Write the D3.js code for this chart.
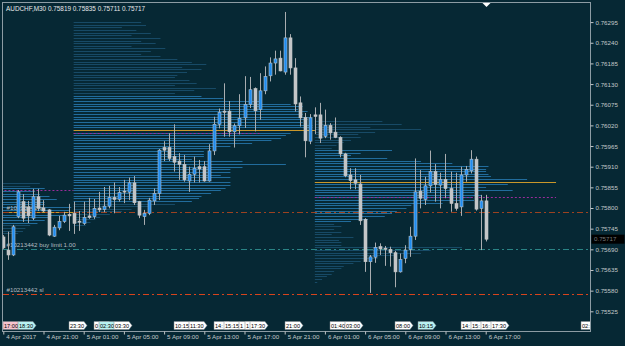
<!DOCTYPE html>
<html>
<head>
<meta charset="utf-8">
<script src="https://cdn.jsdelivr.net/npm/d3@7"></script>
<style>
  body { margin: 0; background: #062834; }
  svg { display: block; font-family: "Liberation Sans", Arial, sans-serif; }
</style>
</head>
<body>
<div class="chart"></div>
<script>
const title = "AUDCHF,M30  0.75819 0.75835 0.75711 0.75717"
const firstBar = "2017-04-04 17:00"   // bars are 30 minutes apart

const open = [0.75723,0.75688,0.75675,0.75777,0.75817,0.75803,0.75773,0.75830,0.75800,0.75795,
  0.75725,0.75747,0.75764,0.75783,0.75786,0.75765,0.75759,0.75779,0.75777,0.75800,
  0.75796,0.75805,0.75828,0.75823,0.75845,0.75842,0.75867,0.75817,0.75777,0.75786,
  0.75819,0.75839,0.75961,0.75961,0.75937,0.75925,0.75916,0.75872,0.75890,0.75910,
  0.75910,0.75872,0.75952,0.76023,0.76058,0.76058,0.76003,0.76019,0.76040,0.76076,
  0.76118,0.76062,0.76112,0.76152,0.76186,0.76199,0.76162,0.76253,0.76173,0.76080,
  0.76041,0.75978,0.76048,0.76048,0.75991,0.76020,0.76002,0.75988,0.75944,0.75888,
  0.75875,0.75864,0.75770,0.75657,0.75669,0.75697,0.75693,0.75690,0.75681,0.75630,
  0.75666,0.75690,0.75725,0.75845,0.75823,0.75859,0.75897,0.75861,0.75876,0.75852,
  0.75812,0.75803,0.75888,0.75899,0.75930,0.75799,0.75819]
const high = [0.75728,0.75737,0.75755,0.75848,0.75837,0.75819,0.75851,0.75851,0.75821,0.75797,
  0.75755,0.75779,0.75790,0.75811,0.75817,0.75792,0.75817,0.75827,0.75824,0.75843,
  0.75856,0.75859,0.75868,0.75856,0.75875,0.75881,0.75885,0.75819,0.75795,0.75827,
  0.75852,0.75957,0.75978,0.75999,0.76023,0.75946,0.75941,0.75910,0.75937,0.75928,
  0.75925,0.75970,0.76043,0.76065,0.76132,0.76085,0.76025,0.76103,0.76151,0.76149,
  0.76121,0.76159,0.76177,0.76201,0.76219,0.76219,0.76322,0.76263,0.76199,0.76097,
  0.76053,0.76050,0.76068,0.76080,0.76062,0.76026,0.76041,0.75991,0.75947,0.75906,
  0.75906,0.75888,0.75773,0.75675,0.75708,0.75706,0.75699,0.75697,0.75686,0.75679,
  0.75701,0.75750,0.75932,0.75901,0.75883,0.75953,0.75917,0.75894,0.75944,0.75897,
  0.75894,0.75910,0.75912,0.75954,0.75937,0.75835,0.75835]
const low = [0.75691,0.75662,0.75672,0.75773,0.75763,0.75760,0.75768,0.75792,0.75789,0.75725,
  0.75723,0.75741,0.75760,0.75739,0.75731,0.75739,0.75755,0.75771,0.75771,0.75789,
  0.75789,0.75799,0.75786,0.75817,0.75813,0.75821,0.75808,0.75773,0.75755,0.75781,
  0.75808,0.75821,0.75925,0.75925,0.75897,0.75875,0.75870,0.75843,0.75868,0.75868,
  0.75870,0.75870,0.75941,0.76012,0.75990,0.75990,0.75961,0.75996,0.76013,0.76066,
  0.76004,0.76035,0.76103,0.76137,0.76155,0.76164,0.76155,0.76155,0.76057,0.76017,
  0.75935,0.75970,0.75997,0.75973,0.75986,0.75982,0.75986,0.75935,0.75882,0.75850,
  0.75850,0.75755,0.75630,0.75574,0.75654,0.75675,0.75646,0.75644,0.75589,0.75628,
  0.75653,0.75670,0.75715,0.75799,0.75808,0.75841,0.75817,0.75799,0.75826,0.75790,
  0.75793,0.75779,0.75870,0.75892,0.75793,0.75688,0.75711]
const close = [0.75694,0.75675,0.75750,0.75843,0.75773,0.75779,0.75830,0.75799,0.75792,0.75728,
  0.75749,0.75764,0.75781,0.75779,0.75759,0.75764,0.75775,0.75775,0.75799,0.75795,
  0.75805,0.75828,0.75823,0.75841,0.75843,0.75867,0.75814,0.75781,0.75786,0.75821,
  0.75839,0.75954,0.75954,0.75932,0.75922,0.75916,0.75875,0.75890,0.75906,0.75904,
  0.75872,0.75952,0.76023,0.76055,0.76055,0.76003,0.76019,0.76039,0.76076,0.76115,
  0.76059,0.76112,0.76150,0.76186,0.76197,0.76165,0.76253,0.76173,0.76077,0.76040,
  0.75979,0.76040,0.76044,0.75986,0.76020,0.76000,0.75988,0.75944,0.75886,0.75873,
  0.75866,0.75766,0.75657,0.75670,0.75695,0.75691,0.75692,0.75681,0.75630,0.75663,
  0.75688,0.75725,0.75843,0.75826,0.75859,0.75897,0.75863,0.75876,0.75852,0.75812,
  0.75799,0.75888,0.75903,0.75930,0.75797,0.75819,0.75717]

const priceTicks = [0.75525,0.75580,0.75635,0.75690,0.75745,0.75800,0.75855,0.75910,
  0.75965,0.76020,0.76075,0.76130,0.76185,0.76240,0.76295]
const timeTicks = ["2017-04-04 17:00","2017-04-04 21:00","2017-04-05 01:00","2017-04-05 05:00",
  "2017-04-05 09:00","2017-04-05 13:00","2017-04-05 17:00","2017-04-05 21:00",
  "2017-04-06 01:00","2017-04-06 05:00","2017-04-06 09:00","2017-04-06 13:00","2017-04-06 17:00"]
const timeLabels = ["4 Apr 2017","4 Apr 21:00","5 Apr 01:00","5 Apr 05:00","5 Apr 09:00",
  "5 Apr 13:00","5 Apr 17:00","5 Apr 21:00","6 Apr 01:00","6 Apr 05:00","6 Apr 09:00",
  "6 Apr 13:00","6 Apr 17:00"]

// daily volume profiles, rows from the top price down, one step apart
const profileStep = 0.00007
const sessionStart = ["2017-04-04 00:00","2017-04-05 00:00","2017-04-06 00:00"]
const profileTop = [0.75866, 0.76295, 0.76031]
const profA = [86,82,88,84,86,90,93,88,88,99,98,100,97,90,88,85,82,80,79,77]
const profB = [28,30,20,26,32,24,36,28,34,24,38,32,28,36,43,49,55,45,53,47,
  43,42,48,51,42,59,50,42,53,62,78,90,95,93,97,95,99,97,95,99,
  99,100,90,88,86,82,74,65,57,54,54,54,49,70,88,70,65,65,61,65,
  57,65,65,63,61,57,53,52,49,42,32,24,20,15,11,9,7,5]
const profC = [28,36,23,44,25,18,19,15,12,9,7,32,19,15,30,44,57,72,71,71,
  72,73,88,92,80,71,82,66,69,65,66,53,40,38,34,32,29,22,15,8,
  11,8,11,7,16,10,11,11,61,48,44,33,26,19,16,12,11,8,7,5,3,1]
const vwap = [0.75848, 0.75999, 0.75828]
const vwapEnd = ["2017-04-05 00:00","2017-04-05 18:30","2017-04-07 00:00"]

// order lines
const orderPrices = [0.75790, 0.75690, 0.75571]
const orderLabels = ["#10213442 tp", "#10213442 buy limit 1.00", "#10213442 sl"]
const orderColors = ["#9c4220", "#2a8486", "#d8441c"]

// event markers on the time scale
const eventTimes = ["2017-04-04 17:00","2017-04-04 18:30","2017-04-04 23:30","2017-04-05 02:00",
  "2017-04-05 02:30","2017-04-05 04:00","2017-04-05 10:00","2017-04-05 11:30","2017-04-05 14:00",
  "2017-04-05 15:00","2017-04-05 16:30","2017-04-05 17:00","2017-04-05 17:30","2017-04-05 21:00",
  "2017-04-06 01:30","2017-04-06 03:00","2017-04-06 08:00","2017-04-06 10:15","2017-04-06 14:30",
  "2017-04-06 15:30","2017-04-06 16:30","2017-04-06 17:30","2017-04-07 02:30"]
const eventText = ["17:00","18:30","23:30","02:00","02:30","03:30","10:15","11:30","14:00",
  "15:15","16:30","17:00","17:30","21:00","01:40","03:00","08:00","10:15","14:30",
  "15:30","16:30","17:30","02:30"]
const eventKind = ["pink","cyan","w","w","cyan","w","w","w","w","w","w","w","w","w",
  "w","w","w","cyan","w","w","w","w","w"]

const parse = d3.timeParse("%Y-%m-%d %H:%M")
const width = 625, height = 346
const plot = {left: 3, top: 3, right: 590, bottom: 331}

const svg = d3.select(".chart").append("svg")
    .attr("width", width)
    .attr("height", height)

svg.append("rect").attr("width", width).attr("height", height).attr("fill", "#062834")

const t0 = parse(firstBar)
const bars = open.map((o, i) => ({
  t: d3.timeMinute.offset(t0, 30 * i), o, h: high[i], l: low[i], c: close[i]
}))

const x = d3.scaleTime()
    .domain([t0, bars[bars.length - 1].t])
    .range([3.3, 485.7])

const y = d3.scaleLinear()
    .domain([0.75525, 0.76295])
    .range([311.3, 22.1])

const px = t => Math.round(x(t)) + 0.5
const py = p => Math.round(y(p)) + 0.5

svg.append("clipPath").attr("id", "plotclip")
  .append("rect")
    .attr("x", plot.left).attr("y", plot.top)
    .attr("width", plot.right - plot.left).attr("height", plot.bottom - plot.top)

const g = svg.append("g").attr("clip-path", "url(#plotclip)")

// ---- volume profiles
function valueArea(v) {
  const total = d3.sum(v)
  const poc = d3.maxIndex(v)
  let lo = poc, hi = poc, s = v[poc]
  while (s < 0.7 * total && (lo > 0 || hi < v.length - 1)) {
    const dn = hi + 1 < v.length ? v[hi + 1] : -1
    const up = lo - 1 >= 0 ? v[lo - 1] : -1
    if (dn >= up) { hi++; s += dn } else { lo--; s += up }
  }
  return [lo, hi, poc]
}

const volLen = d3.scaleLinear().domain([0, 100])

;[profA, profB, profC].forEach((prof, si) => {
  const start = parse(sessionStart[si])
  const x0 = x(start)
  const dayW = x(d3.timeDay.offset(start, 1)) - x0
  volLen.range([0, dayW])
  const [lo, hi, poc] = valueArea(prof)
  const rows = prof.map((v, k) => ({p: profileTop[si] - k * profileStep, v, k}))

  g.append("g").selectAll("line")
    .data(rows)
    .join("line")
      .attr("x1", x0)
      .attr("x2", d => x0 + volLen(d.v))
      .attr("y1", d => py(d.p))
      .attr("y2", d => py(d.p))
      .attr("stroke", d => d.k >= lo && d.k <= hi ? "#216c9c" : "#174a66")
      .attr("stroke-width", 1)

  // point of control
  g.append("line")
      .attr("x1", x0).attr("x2", x0 + dayW)
      .attr("y1", py(rows[poc].p)).attr("y2", py(rows[poc].p))
      .attr("stroke", "#c9972a")

  g.append("line")
      .attr("x1", x0).attr("x2", x(parse(vwapEnd[si])))
      .attr("y1", py(vwap[si])).attr("y2", py(vwap[si]))
      .attr("stroke", "#9b2c9b")
      .attr("stroke-dasharray", "2,2")
})

// ---- order lines
const orders = orderPrices.map((p, i) => ({p, label: orderLabels[i], color: orderColors[i]}))

g.selectAll(".order")
  .data(orders)
  .join("line")
    .attr("class", "order")
    .attr("x1", plot.left).attr("x2", plot.right)
    .attr("y1", d => py(d.p)).attr("y2", d => py(d.p))
    .attr("stroke", d => d.color)
    .attr("stroke-dasharray", "6,3,2,3")

g.selectAll(".olabel")
  .data(orders)
  .join("text")
    .attr("class", "olabel")
    .attr("x", 6.5)
    .attr("y", d => py(d.p) - 2.5)
    .attr("font-size", 6.2)
    .attr("fill", "#b4bcc0")
    .text(d => d.label)

// ---- candles
g.selectAll(".wick")
  .data(bars)
  .join("line")
    .attr("class", "wick")
    .attr("x1", d => px(d.t)).attr("x2", d => px(d.t))
    .attr("y1", d => y(d.h)).attr("y2", d => y(d.l))
    .attr("stroke", "#a9adb0")

g.selectAll(".body")
  .data(bars)
  .join("rect")
    .attr("class", "body")
    .attr("x", d => px(d.t) - 1.5)
    .attr("width", 3)
    .attr("y", d => y(Math.max(d.o, d.c)))
    .attr("height", d => Math.max(1, Math.abs(y(d.o) - y(d.c))))
    .attr("fill", d => d.c > d.o ? "#1e8cf0" : "#c4c6c8")
    .attr("stroke", d => d.c > d.o ? "#b4c2cc" : "#c4c6c8")
    .attr("stroke-width", 0.6)

// ---- event markers, each box partly hidden by the next one
const events = eventTimes.map((t, i) => ({t: parse(t), text: eventText[i], kind: eventKind[i]}))
const evFill = {pink: "#f7c3cf", cyan: "#b9f2f2", w: "#ffffff"}
const ev = g.selectAll(".ev")
  .data(events)
  .join("g")
    .attr("class", "ev")
    .attr("transform", d => `translate(${Math.round(x(d.t))},321.5)`)
ev.append("path")
    .attr("d", "M0,0h15l3,4l-3,4h-15z")
    .attr("fill", d => evFill[d.kind])
    .attr("stroke", "#7a8288")
    .attr("stroke-width", 0.5)
ev.append("text")
    .attr("x", 1).attr("y", 6.5)
    .attr("font-size", 5.6)
    .attr("fill", "#000")
    .text(d => d.text)
ev.each(function(d, i) {
  const x0 = Math.round(x(d.t))
  const after = events.slice(i + 1).map(e => Math.round(x(e.t))).filter(v => v > x0)
  const room = Math.min(d3.min(after) ?? Infinity, plot.right) - x0
  const t = d3.select(this).select("text")
  let s = d.text
  while (s.length > 1 && t.node().getComputedTextLength() > room) {
    s = s.slice(0, -1)
    t.text(s)
  }
})

// ---- frame
svg.append("rect")
    .attr("x", plot.left - 0.5).attr("y", plot.top - 0.5)
    .attr("width", plot.right - plot.left + 1).attr("height", plot.bottom - plot.top + 1)
    .attr("fill", "none")
    .attr("stroke", "#8d9ca4")

// ---- price axis
const yAxis = d3.axisRight(y)
    .tickValues(priceTicks)
    .tickSize(3)
    .tickPadding(2)
    .tickFormat(d3.format(".5f"))

svg.append("g")
    .attr("transform", `translate(${plot.right + 0.5},0)`)
    .call(yAxis)
    .call(a => a.select(".domain").remove())
    .call(a => a.selectAll(".tick line").attr("stroke", "#c0c4c6"))
    .call(a => a.selectAll(".tick text")
        .attr("fill", "#c4c8ca")
        .attr("font-size", 6.2)
        .attr("font-family", "Liberation Sans, Arial, sans-serif"))

// current bid label
const last = bars[bars.length - 1]
svg.append("rect")
    .attr("x", 591.5).attr("y", y(last.c) - 4.5)
    .attr("width", 33).attr("height", 9)
    .attr("fill", "#000")
svg.append("text")
    .attr("x", 594).attr("y", y(last.c) + 2.2)
    .attr("font-size", 6.2)
    .attr("fill", "#767a7c")
    .text(d3.format(".5f")(last.c))

// ---- time axis
const xAxis = d3.axisBottom(x)
    .tickValues(timeTicks.map(parse))
    .tickSize(3)
    .tickFormat((d, i) => timeLabels[i])

svg.append("g")
    .attr("transform", `translate(0,${plot.bottom + 0.5})`)
    .call(xAxis)
    .call(a => a.select(".domain").remove())
    .call(a => a.selectAll(".tick line").attr("stroke", "#c0c4c6"))
    .call(a => a.selectAll(".tick text")
        .attr("fill", "#c4c8ca")
        .attr("font-size", 6.2)
        .attr("font-family", "Liberation Sans, Arial, sans-serif")
        .attr("text-anchor", "start")
        .attr("x", 2.5)
        .attr("y", 3)
        .attr("dy", "0.71em"))

// chart shift marker
const sx = Math.round(x(last.t)) + 0.5
svg.append("path")
    .attr("d", `M${sx - 4},3L${sx + 4},3L${sx},7Z`)
    .attr("fill", "#ffffff")

// title
svg.append("text")
    .attr("x", 6).attr("y", 10.5)
    .attr("font-size", 6.4)
    .attr("fill", "#e6e8ea")
    .text(title)
</script>
</body>
</html>
